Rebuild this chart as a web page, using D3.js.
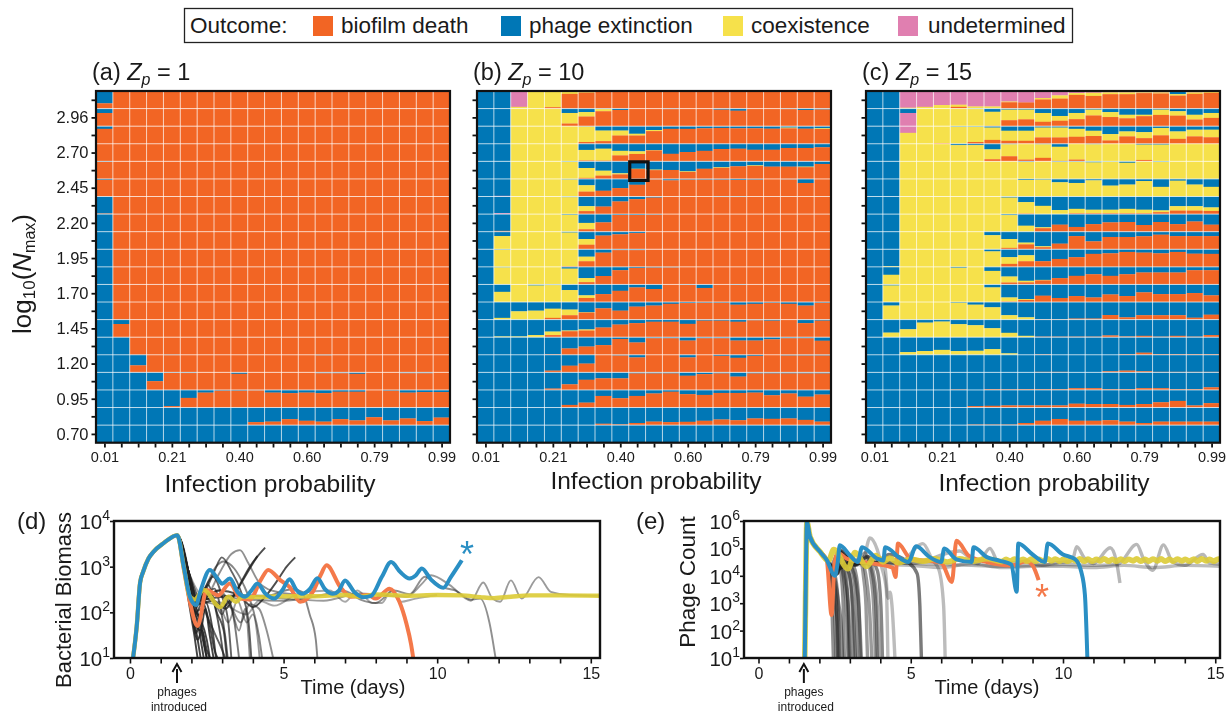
<!DOCTYPE html>
<html><head><meta charset="utf-8">
<script src="https://cdn.jsdelivr.net/npm/d3@7"></script>
<style>
html,body{margin:0;padding:0;background:#fff}
svg{display:block;font-family:"Liberation Sans",Arial,sans-serif;filter:blur(0.35px)}
text{fill:#1a1a1a}
</style></head><body><svg id="c" width="1231" height="715"></svg>
<script>
// ---------- DATA ----------
const outcomes=["biofilm death","phage extinction","coexistence","undetermined"];
const probLabels=["0.01","0.21","0.40","0.60","0.79","0.99"];
const nmaxLabels=["2.96","2.70","2.45","2.20","1.95","1.70","1.45","1.20","0.95","0.70"];
const F=Array(21).fill(100);
// percent of trials in each cell (rows top to bottom, columns left to right); the rest is biofilm death
const blueA=[[70],[25],[15],[0],[3],[5],[97],[100],[100],[100],[100],[100],[100],
[100,25],[100,100],[100,100,60,0,2,0,0,0,0,0,0,0,0,3],
[100,100,100,50,3,4,0,0,8,0,0,0,0,5,5,8,0,0,5,5,0],
[100,100,100,100,92,45,15,4,4,2,15,18,15,18,10,10,0,4,15,12,12],
[100,100,100,100,100,100,100,100,100,83,80,66,75,80,66,73,55,73,62,77,57],F];
const blueB=[
[100,100,0,0,0,4,6],
[100,100,0,0,0,25,20,3,8,0,0,3,0,0,6,12,0,0,3,8,5],
[100,100,0,0,0,0,2,25,25,43,22,15,15,12,10,12,12,14,8,14,12],
[100,100,0,0,0,0,35,28,40,43,36,57,47,40,30,28,34,34,24,24,20],
[100,100,0,0,0,3,38,53,68,42,47,49,57,42,34,28,23,30,30,30,15],
[100,96,0,0,0,3,36,67,52,33,2,8,4,4,4,6,4,0,2,23,0],
[100,95,0,0,0,4,55,57,28,15,6,0,0,0,3,3],
[100,95,0,0,0,4,50,47,5,5,3],
[100,25,0,0,0,5,42,22,15,8],
[100,3,0,0,0,0,42,19,5,5],
[100,3,0,0,0,10,64,52,19,6,4,3],
[100,42,0,6,4,32,62,55,36,17,26,0,3,20,0,3],
[100,90,53,49,38,43,58,36,49,26,20,10,6,4,4,15,10,4,10,20,4],
[100,96,96,88,68,62,56,45,28,20,12,12,24,6,6,12,4,6,0,20,6],
[100,100,100,100,97,64,53,45,10,30,6,6,19,6,6,19,19,12,6,6,20],
[100,100,100,100,90,62,50,0,4,15,0,0,15,0,6,17,6,0,4,4,4],
[100,100,100,100,92,68,42,34,34,6,6,6,19,10,6,24,6,6,6,6,6],
[100,100,100,100,100,85,72,34,47,34,20,10,24,28,17,17,15,30,20,38,26],
[100,100,100,100,100,100,100,92,96,88,80,83,81,75,68,72,62,64,62,70,80],F];
const yellowB=[
[0,0,10,100,92,12,3],
[0,0,100,100,100,60,25,12],
[0,0,100,100,100,100,88,60,28,10,6,0,0,0,0,0,0,0,4,0,4],
[0,0,100,100,100,100,60,68,26,15,2],
[0,0,100,100,100,97,56,28,6,2,3,0,3,0,3,0,3,0,0,3],
[0,0,100,100,100,97,36],
[0,0,100,100,100,96,28],
[0,0,100,100,100,96,36],
[0,75,100,100,100,95,32],
[0,97,100,100,100,97,26],
[0,97,100,100,100,90,23],
[0,58,100,94,96,68,15],
[0,10,47,51,52,32,2],
[0,4,4,12,20,4,6],
[],[],[],[],[],[]];
const pinkB=[[0,0,90],[],[],[],[],[0,4],[0,5]];
const blueC=[
[100,100,0,0,0,0,0,0,0,0,0,0,0,0,0,0,2,0,18],
[100,100,25,0,0,0,3,18,6,6,25,42,25,6,20,35,35,6,15,35,25],
[100,100,0,0,0,3,3,8,26,26,8,8,15,26,45,30,34,10,30,20,20],
[100,100,0,0,0,8,8,32,3,0,3,17,0,3,0,0,5,5],
[100,100,0,0,0,0,0,0,0,4,0,4,3,6,2,8,0,4],
[100,100,0,0,0,0,0,0,0,6,4,19,23,8,38,32,12,45,10,32,45],
[100,100,0,0,0,0,0,0,6,32,53,77,70,75,75,70,75,79,55,55,62],
[100,100,0,0,0,0,0,0,6,66,75,60,73,57,47,45,62,45,57,42,60],
[100,100,0,0,0,0,0,20,42,62,83,68,25,55,30,30,26,17,25,25,25],
[100,96,0,0,0,0,0,12,45,34,68,55,45,26,23,15,19,23,15,25,26],
[100,45,0,0,0,5,0,23,55,79,74,64,51,42,51,42,32,32,32,19,19],
[100,6,0,0,0,0,0,17,74,83,64,77,66,74,57,66,45,55,55,49,62],
[100,20,0,0,0,4,15,30,75,87,97,97,94,94,74,87,75,75,75,89,72],
[100,74,55,17,11,26,32,49,75,92,97,97,97,97,90,96,92,97,92,97,88],
[100,100,85,79,72,79,77,68,92,100,98,100,100,100,100,96,88,96,96,96,96],
[100,100,100,100,100,100,100,100,100,100,97,97,100,100,94,90,94,97,97,97,97],
[100,100,100,100,100,98,100,96,97,96,96,96,90,90,96,96,90,90,96,96,85],
[100,100,100,100,100,100,92,90,88,88,88,88,78,80,80,85,80,70,62,88,75],
[100,100,100,100,100,100,97,97,97,88,75,65,75,75,72,80,88,80,80,80,80],
[100,100,100,100,100,100,100,100,100,100,100,100,100,100,97,100,100,100,100,100,100]];
const yellowC=[
[0,0,5,10,20,12,12,12,4,0,8,18,10,18,10,10,4,6,8,8,4],
[0,0,0,100,100,100,97,80,60,55,50,27,35,33,28,20,8,30,25,27,28],
[0,0,62,100,96,97,87,70,57,57,56,56,45,30,36,28,34,42,42,38,43],
[0,0,100,100,100,92,92,56,68,90,77,80,90,97,100,100,87,95,100,100,100],
[0,0,100,100,100,100,100,100,100,96,100,96,97,94,98,92,100,96,100,100,100],
[0,0,100,100,100,100,100,100,100,94,96,81,77,92,62,68,88,55,90,68,55],
[0,0,100,100,100,100,100,100,94,65,47,23,25,20,20,25,20,10,25,25,20],
[0,0,100,100,100,100,100,100,94,34,5],
[0,0,100,100,100,100,100,80,50,10,5],
[0,4,100,100,100,100,100,88,38,34],
[0,55,100,100,100,95,100,77,34,9,3],
[0,94,100,100,100,100,100,83,23,5],
[0,80,100,100,100,96,85,70,25,13],
[0,26,45,83,89,74,68,51,25,8],
[0,0,15,21,28,21,23,32,8],
[],[],[],[],[]];
const pinkC=[
[0,0,95,90,80,78,88,88,60,65,40,25,12,10,8,8,6,8,0,8,6],
[0,0,75],
[0,0,38]];

// time series: [days, value]
const growthD=[[0.1,10],[0.22,50],[0.33,450],[0.43,776],[0.6,1500],[0.76,2100],[1.1,3300],[1.54,4900]];
const blueD=[[1.75,1000],[1.95,220],[2.15,145],[2.3,300],[2.6,850],[2.85,550],[3,425],[3.25,550],[3.5,280],[3.75,220],[3.95,300],[4.15,430],[4.4,260],[4.7,200],[4.95,300],[5.2,530],[5.4,320],[5.6,255],[5.85,320],[6.1,560],[6.35,320],[6.6,255],[6.8,300],[7,500],[7.3,280],[7.6,215],[7.85,230],[8.2,600],[8.5,1260],[8.8,760],[9.1,550],[9.3,640],[9.5,910],[9.8,520],[10.2,345],[10.45,600],[10.8,1380]];
const orangeD=[[1.75,900],[1.95,170],[2.2,50],[2.5,310],[2.87,235],[3.25,430],[3.6,200],[3.9,190],[4.25,500],[4.5,850],[4.9,500],[5.2,355],[5.54,170],[5.95,280],[6.2,640],[6.4,1070],[6.85,355],[7.2,220],[7.75,240],[8,200],[8.45,330],[8.77,170],[9,56],[9.15,20],[9.22,10]];
const yellowD=[[1.75,1000],[1.95,220],[2.1,190],[2.4,310],[2.93,130],[3.2,220],[3.45,170],[3.65,220],[4,215],[5,225],[6,225],[7,240],[7.5,220],[8,245],[8.5,240],[9,230],[10,240],[10.8,235],[11.4,215],[11.85,205],[12.4,220],[13,235],[14,235],[15.3,230]];
const greyD=[
[[1.75,900],[1.95,120],[2.1,30],[2.2,10]],
[[1.75,1000],[1.95,150],[2.15,40],[2.3,10]],
[[1.8,900],[2,180],[2.2,60],[2.4,10]],
[[1.8,800],[2,200],[2.2,100],[2.35,30],[2.5,10]],
[[1.8,1000],[2.05,150],[2.25,80],[2.45,170],[2.65,60],[2.8,10]],
[[1.8,1100],[2.1,110],[2.3,200],[2.55,400],[2.75,150],[2.95,30],[3.05,10]],
[[1.85,900],[2.1,60],[2.3,40],[2.45,120],[2.6,30],[2.72,10]],
[[1.85,1000],[2.1,90],[2.35,170],[2.6,300],[2.85,90],[3.05,40],[3.15,10]],
[[1.85,1100],[2.1,140],[2.4,300],[2.7,600],[3,220],[3.2,60],[3.3,10]],
[[1.8,950],[2,150],[2.3,70],[2.5,25],[2.6,10]],
[[1.8,1000],[2.05,170],[2.4,150],[2.6,50],[2.75,15],[2.85,10]],
[[1.8,900],[2,110],[2.2,25],[2.35,40],[2.5,15],[2.6,10]],
[[1.8,900],[2,130],[2.15,35],[2.3,60],[2.42,20],[2.5,10]],
[[1.85,900],[2.05,120],[2.25,70],[2.5,220],[2.75,330],[2.95,120],[3.1,30],[3.18,10]],
[[1.85,900],[2.1,100],[2.35,120],[2.6,60],[2.8,30],[3,15],[3.1,10]],
[[1.9,800],[2.05,150],[2.35,300],[2.7,200],[3,90],[3.2,200],[3.4,60],[3.55,10]],
[[1.9,700],[2.05,150],[2.4,250],[2.75,800],[2.99,1600],[3.3,800],[3.6,300],[3.85,70],[3.95,10]],
[[1.9,800],[2.1,160],[2.45,350],[2.8,1000],[3.05,1300],[3.4,900],[3.7,400],[4,120],[4.2,30],[4.3,10]],
[[1.9,800],[2.1,160],[2.5,220],[2.9,700],[3.3,1900],[3.58,2300],[3.85,1200],[4.2,450],[4.5,320],[4.8,280],[5.3,250]],
[[1.9,800],[2.1,170],[2.6,200],[3,130],[3.4,250],[3.8,700],[4.1,1500],[4.4,2600]],
[[1.9,800],[2.2,150],[2.7,180],[3.1,120],[3.5,330],[3.9,1000],[4.15,1700]],
[[1.9,800],[2.2,180],[2.9,300],[3.5,250],[4,130],[4.4,220],[4.8,500],[5.1,1000],[5.38,1600]],
[[1.9,800],[2.2,200],[2.7,250],[3.2,170],[3.6,60],[3.9,150],[4.2,120],[4.45,40],[4.66,10]],
[[1.9,800],[2.3,200],[2.9,300],[3.3,120],[3.55,40],[3.75,120],[3.9,10]],
[[1.9,800],[2.3,180],[2.9,140],[3.2,60],[3.5,180],[3.8,60],[4,90],[4.15,30],[4.22,10]],
[[1.9,800],[2.2,190],[3,220],[3.6,240],[4.4,230],[5.3,320],[5.6,280],[5.85,90],[6.05,25],[6.1,10]],
[[1.9,800],[2.2,180],[2.8,250],[3.5,200],[5,180],[6,220],[7,290],[7.5,190],[8,160],[8.6,300],[9.1,250],[9.6,600],[10.2,350],[10.6,300],[11.1,190],[11.4,200],[11.7,60],[11.9,10]],
[[1.9,800],[2.2,190],[3,220],[4,230],[5,200],[6.3,180],[7.5,260],[9,220],[9.5,420],[9.8,650],[10.4,400],[11.1,180],[11.5,450],[11.8,200],[12.05,170],[12.4,500],[12.75,200],[13.3,590],[13.7,280],[14.3,240],[15.3,230]],
[[1.9,800],[2.4,210],[3,160],[3.8,90],[4.2,180],[4.7,140],[5.5,260],[6.5,300],[7,170],[7.4,300],[7.9,160],[8.2,160],[8.5,300],[8.8,170],[9.3,200],[10,240]]];
const greyOpacityD=[.85,.85,.85,.85,.8,.75,.85,.75,.7,.85,.8,.85,.85,.7,.7,.6,.7,.55,.5,.8,.8,.8,.5,.5,.45,.55,.5,.45,.4];

const riseE=[[1.52,10],[1.55,3000],[1.59,900000],[1.69,270000],[2.02,76000],[2.24,38000]];
const blueE=[[2.51,10000],[2.6,30000],[2.67,130000],[3,56000],[3.26,32000],[3.4,110000],[3.9,42000],[4.1,36000],[4.16,110000],[4.67,42000],[4.92,32000],[5.18,120000],[5.6,50000],[6,32000],[6.1,100000],[6.5,40000],[7,32000],[7.06,110000],[7.5,48000],[7.9,36000],[8.3,26000],[8.48,2600],[8.53,150000],[9,60000],[9.4,32000],[9.5,150000],[10,60000],[10.4,40000],[10.6,14000],[10.72,2000],[10.8,10]];
const orangeE=[[2.4,370],[2.5,30000],[2.6,70000],[2.9,42000],[3.6,30000],[4.4,20000],[4.5,9000],[4.58,150000],[5,42000],[6,30000],[6.35,6000],[6.5,190000],[6.9,55000],[7.5,32000],[8.3,24000],[8.8,34000],[9,24000],[9.2,7000]];
const yellowE=[[2.3,36000],[2.47,90000],[2.94,18000],[3.17,70000],[3.55,22000],[3.85,55000],[4.1,32000],[4.3,44000],[4.6,30000],[5,40000],[5.4,34000],[5.8,42000],[6.2,32000],[6.6,42000],[7,34000],[7.5,42000],[8,33000],[8.13,40000],[8.26,34000],[8.4,41000],[8.55,35000],[8.7,40000],[8.82,34000],[8.95,41000],[9.1,34000],[9.22,40000],[9.35,34000],[9.5,42000],[9.62,35000],[9.75,41000],[9.9,34000],[10,40000],[10.15,34000],[10.3,41000],[10.42,35000],[10.55,42000],[10.7,34000],[10.82,41000],[10.95,34000],[11.1,40000],[11.22,35000],[11.35,42000],[11.5,34000],[11.62,40000],[11.75,34000],[11.9,41000],[12.02,34000],[12.15,40000],[12.3,35000],[12.42,42000],[12.55,34000],[12.7,40000],[12.82,34000],[12.95,41000],[13.1,35000],[13.22,42000],[13.35,34000],[13.5,40000],[13.62,34000],[13.75,41000],[13.9,35000],[14.02,40000],[14.15,34000],[14.3,41000],[14.42,34000],[14.55,42000],[14.7,35000],[14.82,40000],[14.95,34000],[15.1,41000],[15.3,36000]];
const greyE=[
[[2.3,30000],[2.36,6000],[2.42,400],[2.46,10]],
[[2.3,28000],[2.4,8000],[2.48,1500],[2.55,10]],
[[2.32,28000],[2.45,9000],[2.55,1500],[2.6,10]],
[[2.32,30000],[2.5,12000],[2.6,2000],[2.66,10]],
[[2.32,26000],[2.5,11000],[2.62,50000],[2.72,10000],[2.78,900],[2.82,10]],
[[2.35,22000],[2.6,13000],[2.72,70000],[2.86,14000],[2.94,1000],[2.98,10]],
[[2.35,22000],[2.66,80000],[2.9,22000],[3.02,6000],[3.08,600],[3.12,10]],
[[2.4,18000],[2.66,90000],[3,26000],[3.13,8000],[3.2,1000],[3.25,10]],
[[2.4,16000],[2.7,80000],[3.1,26000],[3.22,9000],[3.3,800],[3.35,10]],
[[2.4,16000],[2.7,60000],[3.1,30000],[3.33,45000],[3.45,9000],[3.53,800],[3.58,10]],
[[2.4,16000],[2.7,60000],[3.2,26000],[3.5,70000],[3.68,11000],[3.78,800],[3.84,10]],
[[2.4,16000],[2.7,60000],[3.2,26000],[3.6,50000],[3.78,12000],[3.9,800],[3.96,10]],
[[2.4,16000],[2.7,60000],[3.2,26000],[3.6,50000],[3.9,16000],[4.02,800],[4.07,10]],
[[2.5,16000],[3,30000],[3.4,28000],[3.66,240000],[3.9,90000],[4.05,20000],[4.2,3000],[4.25,10]],
[[2.5,16000],[3,30000],[3.4,28000],[3.8,30000],[4.15,24000],[4.25,1500],[4.32,2500],[4.38,900],[4.48,10]],
[[2.5,16000],[3,30000],[3.8,30000],[4.3,60000],[4.9,32000],[5.21,12000],[5.3,800],[5.35,10]],
[[2.5,16000],[3,28000],[4,32000],[4.6,28000],[5.4,150000],[5.7,40000],[5.93,16000],[6.08,800],[6.13,10]],
[[2.5,16000],[3,28000],[4,32000],[5,28000],[6.6,80000],[7.2,28000],[7.6,100000],[7.9,28000],[8.8,32000],[9.3,24000],[9.8,30000],[10.3,35000],[10.45,115000],[10.7,45000],[11,28000],[11.55,105000],[11.75,35000],[11.87,5500]],
[[2.5,16000],[3,28000],[4,30000],[6,26000],[7,24000],[8,22000],[9,24000],[10,26000],[11,24000],[11.8,26000],[12.42,140000],[12.65,40000],[12.95,16000],[13.3,135000],[13.6,32000],[14,24000],[14.6,60000],[14.8,30000],[15.3,26000]],
[[2.5,16000],[3,25000],[4,26000],[5,24000],[6,20000],[7,28000],[8,20000],[9,22000],[10,22000],[11,20000],[12,24000],[13,20000],[14,24000],[15.3,22000]],
[[2.3,24000],[2.42,7000],[2.52,900],[2.6,150],[2.64,10]],
[[2.33,24000],[2.5,8000],[2.62,1200],[2.72,120],[2.76,10]],
[[2.35,22000],[2.6,12000],[2.7,35000],[2.84,8000],[2.96,500],[3.02,10]],
[[2.35,20000],[2.55,11000],[2.68,55000],[2.98,12000],[3.1,800],[3.18,10]],
[[2.4,18000],[2.6,12000],[2.7,70000],[3.05,22000],[3.2,6000],[3.3,600],[3.38,10]],
[[2.4,18000],[2.7,60000],[3.15,24000],[3.35,40000],[3.55,7000],[3.65,500],[3.72,10]],
[[2.4,16000],[2.7,55000],[3.2,24000],[3.5,50000],[3.75,10000],[3.85,900],[3.9,10]],
[[2.35,24000],[2.55,14000],[2.7,20000],[2.82,5000],[2.9,300],[2.94,10]]];
const greyOpacityE=[.5,.5,.5,.5,.5,.5,.5,.5,.5,.45,.45,.4,.55,.3,.3,.6,.3,.32,.32,.3,.5,.5,.5,.5,.45,.45,.45,.5];
const timeTicks=[0,5,10,15];

// ---------- DRAW ----------
const col={"biofilm death":"#F26524","phage extinction":"#0077B6","coexistence":"#F6E14B","undetermined":"#E07FB0"};
const svg=d3.select("#c");
const rows=d3.range(20),cols=d3.range(21);

function richTitle(g,x,y,tag,val){
  const t=g.append("text").attr("x",x).attr("y",y).attr("font-size",23.5);
  t.append("tspan").text(tag+" ");
  t.append("tspan").attr("font-style","italic").text("Z");
  t.append("tspan").attr("font-style","italic").attr("font-size",16).attr("dy",5).text("p");
  t.append("tspan").attr("dy",-5).text(" = "+val);
}
function heat(cfg){
  const x=d3.scaleBand().domain(cols).range([cfg.left,cfg.left+354]);
  const y=d3.scaleBand().domain(rows).range([91,442.7]);
  const g=svg.append("g");
  rows.forEach(r=>cols.forEach(c=>{
    const b=(cfg.blue[r]||[])[c]||0,p=(cfg.pink[r]||[])[c]||0,yy=(cfg.yellow[r]||[])[c]||0;
    const o=Math.max(0,100-b-p-yy);
    const h=d3.scaleLinear().domain([0,100]).range([0,y.bandwidth()]);
    let acc=0;
    [["phage extinction",b],["undetermined",p],["coexistence",yy],["biofilm death",o]].forEach(([k,v])=>{
      if(v<=0)return;
      g.append("rect").attr("x",x(c)).attr("y",y(r)+h(acc)).attr("width",x.bandwidth()+.4).attr("height",h(v)+.2).attr("fill",col[k]);
      acc+=v;
    });
  }));
  cols.slice(1).forEach(c=>g.append("line").attr("x1",x(c)).attr("x2",x(c)).attr("y1",91).attr("y2",442.7).attr("stroke","#fff").attr("stroke-opacity",.7).attr("stroke-width",1));
  rows.slice(1).forEach(r=>g.append("line").attr("y1",y(r)).attr("y2",y(r)).attr("x1",cfg.left).attr("x2",cfg.left+354).attr("stroke","#fff").attr("stroke-opacity",.7).attr("stroke-width",1));
  g.append("rect").attr("x",cfg.left).attr("y",91).attr("width",354).attr("height",351.7).attr("fill","none").attr("stroke","#111").attr("stroke-width",2.2);
  const ax=d3.axisBottom(d3.scalePoint().domain(cols).range([x(0)+x.bandwidth()/2,x(20)+x.bandwidth()/2])).tickSize(4).tickFormat(d=>d%4===0?probLabels[d/4]:"");
  const ag=g.append("g").attr("transform","translate(0,443.5)").call(ax);
  ag.select(".domain").remove();ag.selectAll("line").attr("stroke-width",1.8).attr("stroke","#111");
  ag.selectAll("text").attr("font-size",14.5).attr("dy","0.8em").attr("font-family","Liberation Sans");
  const ay=d3.axisLeft(d3.scalePoint().domain(rows).range([y(0)+y.bandwidth()/2,y(19)+y.bandwidth()/2])).tickSize(3.5).tickFormat(d=>(cfg.labels&&d%2===1)?nmaxLabels[(d-1)/2]:"");
  const ayg=g.append("g").attr("transform",`translate(${cfg.left-1},0)`).call(ay);
  ayg.select(".domain").remove();ayg.selectAll("line").attr("stroke-width",1.8).attr("stroke","#111");
  ayg.selectAll("text").attr("font-size",16.5).attr("font-family","Liberation Sans");
  richTitle(svg,cfg.left-4,cfg.titleY,cfg.tag,cfg.val);
  svg.append("text").attr("x",cfg.xlabelX).attr("y",cfg.xlabelY).attr("text-anchor","middle").attr("font-size",24.5).text("Infection probability");
  if(cfg.mark!==undefined){
    g.append("rect").attr("x",x(cfg.mark[0])+1).attr("y",y(cfg.mark[1])+.5).attr("width",x.bandwidth()+1.5).attr("height",y.bandwidth()+1).attr("fill","none").attr("stroke","#111").attr("stroke-width",3.2);
  }
}
heat({left:96,blue:blueA,yellow:[],pink:[],labels:true,tag:"(a)",val:"1",titleY:80,xlabelX:270,xlabelY:492});
heat({left:477,blue:blueB,yellow:yellowB,pink:pinkB,labels:false,tag:"(b)",val:"10",titleY:80,xlabelX:656,xlabelY:489,mark:[9,4]});
heat({left:866,blue:blueC,yellow:yellowC,pink:pinkC,labels:false,tag:"(c)",val:"15",titleY:80,xlabelX:1044,xlabelY:491});

const yl=svg.append("text").attr("transform","translate(31,274) rotate(-90)").attr("text-anchor","middle").attr("font-size",26);
yl.append("tspan").text("log");yl.append("tspan").attr("font-size",17).attr("dy",4).text("10");
yl.append("tspan").attr("dy",-4).text("(");yl.append("tspan").attr("font-style","italic").text("N");
yl.append("tspan").attr("font-size",16).attr("dy",4).text("max");yl.append("tspan").attr("dy",-4).text(")");

svg.append("rect").attr("x",184.5).attr("y",8.5).attr("width",888).attr("height",34).attr("fill","#fff").attr("stroke","#222").attr("stroke-width",1.3);
svg.append("text").attr("x",190).attr("y",33).attr("font-size",22.5).text("Outcome:");
const legX=[313,501,723,898],legT=[341,529,751,928];
outcomes.forEach((o,i)=>{
  svg.append("rect").attr("x",legX[i]).attr("y",16).attr("width",20).attr("height",20).attr("fill",col[o]);
  svg.append("text").attr("x",legT[i]).attr("y",33).attr("font-size",22.5).text(o);
});

function lineChart(cfg){
  const x=d3.scaleLinear().domain(cfg.xd).range(cfg.xr);
  const y=d3.scaleLog().domain(cfg.yd).range([658,521]);
  const id="clip"+cfg.key;
  svg.append("clipPath").attr("id",id).append("rect").attr("x",cfg.xr[0]).attr("y",521).attr("width",cfg.xr[1]-cfg.xr[0]).attr("height",137);
  const g=svg.append("g").attr("clip-path",`url(#${id})`);
  const ln=d3.line().x(d=>x(d[0])).y(d=>y(d[1])).curve(d3.curveMonotoneX);
  cfg.grey.forEach((s,i)=>g.append("path").attr("d",ln(cfg.head.concat(s))).attr("fill","none").attr("stroke",cfg.greyCol).attr("stroke-opacity",cfg.greyOp[i]).attr("stroke-width",cfg.greyW).attr("stroke-linejoin","round"));
  const hi=(s,c,w,o)=>g.append("path").attr("d",ln(cfg.head.concat(s))).attr("fill","none").attr("stroke",c).attr("stroke-width",w).attr("stroke-opacity",o||1).attr("stroke-linejoin","round");
  hi(cfg.orange,"#F4794A",cfg.hw);
  hi(cfg.yellow,"#DCCB35",cfg.yw,.9);
  hi(cfg.blue,"#2A8FC4",cfg.hw);
  svg.append("rect").attr("x",cfg.xr[0]).attr("y",521).attr("width",cfg.xr[1]-cfg.xr[0]).attr("height",137).attr("fill","none").attr("stroke","#111").attr("stroke-width",2.4);
  const ax=d3.axisBottom(x).tickValues(d3.range(0,16)).tickSize(5).tickFormat(d=>timeTicks.includes(d)?d:"");
  const ag=svg.append("g").attr("transform","translate(0,658.5)").call(ax);
  ag.select(".domain").remove();ag.selectAll("line").attr("stroke-width",1.6).attr("stroke","#111");
  ag.selectAll("text").attr("font-size",16).attr("font-family","Liberation Sans").attr("y",9);
  const ay=d3.axisLeft(y).tickValues(cfg.yt).tickSize(3).tickFormat("");
  const ayg=svg.append("g").attr("transform",`translate(${cfg.xr[0]-1},0)`).call(ay);
  ayg.select(".domain").remove();ayg.selectAll("line").attr("stroke-width",1.6).attr("stroke","#111");
  cfg.yt.forEach(v=>{
    const t=svg.append("text").attr("x",cfg.xr[0]-4).attr("y",y(v)+8).attr("text-anchor","end").attr("font-size",20.5);
    t.append("tspan").text("10");
    t.append("tspan").attr("font-size",14).attr("dy",-9).text(Math.round(Math.log10(v)));
  });
  svg.append("text").attr("transform",`translate(${cfg.ylX},${cfg.ylY}) rotate(-90)`).attr("text-anchor","middle").attr("font-size",cfg.ylS).text(cfg.ylabel);
  svg.append("text").attr("x",cfg.tagX).attr("y",529).attr("font-size",24).text(cfg.tag);
  svg.append("text").attr("x",cfg.tlX).attr("y",694).attr("text-anchor","middle").attr("font-size",20).text("Time (days)");
  const ax0=x(cfg.arrowT);
  svg.append("line").attr("x1",ax0).attr("x2",ax0).attr("y1",683).attr("y2",669).attr("stroke","#111").attr("stroke-width",2);
  svg.append("path").attr("d",d3.line()([[ax0-4.5,672],[ax0,664],[ax0+4.5,672]])).attr("fill","none").attr("stroke","#111").attr("stroke-width",2);
  svg.append("text").attr("x",ax0).attr("y",696).attr("text-anchor","middle").attr("font-size",12).text("phages");
  svg.append("text").attr("x",ax0+2).attr("y",711).attr("text-anchor","middle").attr("font-size",12).text("introduced");
  svg.append("text").attr("x",cfg.star[0]).attr("y",cfg.star[1]).attr("text-anchor","middle").attr("font-size",36).style("fill",cfg.star[2]).text("*");
}
lineChart({key:"d",tag:"(d)",tagX:17,xd:[-0.52,15.3],xr:[114,600],yd:[10,10000],yt:[10,100,1000,10000],head:growthD,grey:greyD,greyOp:greyOpacityD,greyCol:"#222",greyW:1.9,hw:4,yw:4.4,
  blue:blueD,orange:orangeD,yellow:yellowD,ylabel:"Bacterial Biomass",ylS:22,ylX:71,ylY:600,tlX:353,arrowT:1.53,star:["467",567,"#2A8FC4"]});
lineChart({key:"e",tag:"(e)",tagX:636,xd:[-0.476,15.156],xr:[744,1220],yd:[10,1000000],yt:[10,100,1000,10000,100000,1000000],head:riseE,grey:greyE,greyOp:greyOpacityE,greyCol:"#222",greyW:3.4,hw:4,yw:5.6,
  blue:blueE,orange:orangeE,yellow:yellowE,ylabel:"Phage Count",ylS:22.5,ylX:695,ylY:582,tlX:987,arrowT:1.49,star:["1042",610,"#F4794A"]});
</script></body></html>
